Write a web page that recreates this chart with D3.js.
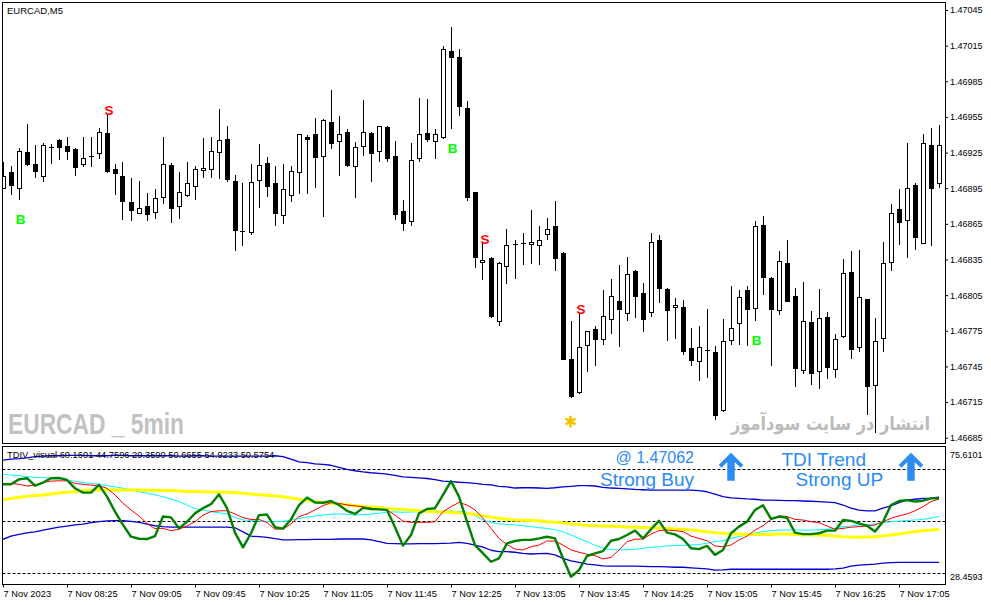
<!DOCTYPE html>
<html>
<head>
<meta charset="utf-8">
<script src="https://cdn.jsdelivr.net/npm/d3@7"></script>
<style>
  body { margin: 0; background: #fff; }
  svg { display: block; }
  .axis text { font-family: "Liberation Sans", Arial, sans-serif; font-size: 9.3px; fill: #000; }
  .axis line { stroke: #000; }
  .axis path { display: none; }
</style>
</head>
<body>
<div id="chart"></div>
<script>
// EURCAD M5 candles, 7 Nov 2023 07:45 .. 17:30
var opens = [1.46895,1.46908,1.46895,1.46925,1.46915,1.46905,1.46930,1.46935,1.46930,1.46928,
  1.46915,1.46922,1.46924,1.46941,1.46911,1.46905,1.46883,1.46874,1.46880,1.46874,
  1.46887,1.46914,1.46879,1.46889,1.46897,1.46910,1.46911,1.46925,1.46936,1.46901,
  1.46859,1.46858,1.46901,1.46916,1.46899,1.46872,1.46889,1.46908,1.46938,1.46940,
  1.46922,1.46950,1.46934,1.46942,1.46913,1.46930,1.46941,1.46926,1.46946,1.46922,
  1.46875,1.46867,1.46920,1.46941,1.46934,1.46938,1.47010,1.47005,1.46962,1.46891,
  1.46832,1.46836,1.46783,1.46829,1.46848,1.46849,1.46847,1.46847,1.46856,1.46863,
  1.46840,1.46751,1.46723,1.46762,1.46776,1.46768,1.46785,1.46800,1.46789,1.46825,
  1.46806,1.46790,1.46851,1.46810,1.46794,1.46795,1.46760,1.46749,1.46759,1.46757,
  1.46708,1.46767,1.46781,1.46809,1.46794,1.46864,1.46819,1.46792,1.46832,1.46804,
  1.46742,1.46782,1.46740,1.46786,1.46743,1.46770,1.46824,1.46761,1.46801,1.46729,
  1.46769,1.46833,1.46877,1.46868,1.46897,1.46849,1.46931,1.46899];
var highs = [1.46917,1.46914,1.46929,1.46949,1.46931,1.46933,1.46932,1.46936,1.46938,1.46929,
  1.46938,1.46938,1.46946,1.46957,1.46915,1.46917,1.46904,1.46901,1.46891,1.46894,
  1.46938,1.46916,1.46909,1.46917,1.46914,1.46937,1.46938,1.46962,1.46947,1.46906,
  1.46899,1.46915,1.46932,1.46921,1.46914,1.46915,1.46914,1.46941,1.46940,1.46954,
  1.46953,1.46978,1.46956,1.46945,1.46934,1.46969,1.46942,1.46947,1.46947,1.46935,
  1.46885,1.46933,1.46971,1.46970,1.46945,1.47015,1.47031,1.47012,1.46968,1.46892,
  1.46849,1.46837,1.46833,1.46861,1.46851,1.46857,1.46877,1.46863,1.46870,1.46884,
  1.46841,1.46783,1.46790,1.46774,1.46779,1.46809,1.46819,1.46830,1.46837,1.46826,
  1.46815,1.46857,1.46856,1.46811,1.46803,1.46801,1.46777,1.46779,1.46793,1.46762,
  1.46785,1.46813,1.46809,1.46813,1.46867,1.46872,1.46820,1.46842,1.46851,1.46811,
  1.46816,1.46792,1.46810,1.46791,1.46772,1.46835,1.46842,1.46843,1.46802,1.46786,
  1.46850,1.46882,1.46894,1.46933,1.46899,1.46941,1.46946,1.46948];
var lows = [1.46894,1.46889,1.46885,1.46914,1.46904,1.46900,1.46915,1.46919,1.46919,1.46905,
  1.46913,1.46913,1.46920,1.46908,1.46889,1.46868,1.46867,1.46873,1.46867,1.46869,
  1.46882,1.46866,1.46869,1.46888,1.46885,1.46904,1.46904,1.46903,1.46900,1.46842,
  1.46846,1.46856,1.46878,1.46888,1.46863,1.46865,1.46883,1.46890,1.46890,1.46895,
  1.46871,1.46928,1.46905,1.46913,1.46887,1.46922,1.46900,1.46917,1.46917,1.46868,
  1.46859,1.46863,1.46917,1.46934,1.46920,1.46936,1.46945,1.46956,1.46884,1.46828,
  1.46818,1.46786,1.46779,1.46814,1.46819,1.46830,1.46831,1.46830,1.46851,1.46825,
  1.46750,1.46718,1.46722,1.46740,1.46745,1.46763,1.46772,1.46761,1.46783,1.46786,
  1.46774,1.46787,1.46798,1.46766,1.46768,1.46755,1.46745,1.46733,1.46735,1.46700,
  1.46707,1.46763,1.46763,1.46762,1.46783,1.46805,1.46745,1.46788,1.46799,1.46728,
  1.46739,1.46729,1.46726,1.46734,1.46735,1.46769,1.46751,1.46757,1.46704,1.46689,
  1.46757,1.46825,1.46847,1.46836,1.46843,1.46848,1.46846,1.46895];
var closes = [1.46905,1.46897,1.46926,1.46915,1.46909,1.46931,1.46929,1.46929,1.46926,1.46913,
  1.46920,1.46921,1.46942,1.46909,1.46908,1.46884,1.46876,1.46878,1.46873,1.46886,
  1.46915,1.46878,1.46891,1.46899,1.46911,1.46912,1.46926,1.46935,1.46902,1.46860,
  1.46858,1.46900,1.46914,1.46897,1.46874,1.46894,1.46909,1.46940,1.46936,1.46921,
  1.46952,1.46932,1.46940,1.46914,1.46929,1.46942,1.46924,1.46947,1.46920,1.46873,
  1.46865,1.46918,1.46940,1.46936,1.46940,1.47012,1.47005,1.46964,1.46887,1.46836,
  1.46834,1.46787,1.46832,1.46847,1.46847,1.46848,1.46849,1.46851,1.46860,1.46836,
  1.46751,1.46720,1.46761,1.46774,1.46768,1.46787,1.46804,1.46793,1.46822,1.46804,
  1.46784,1.46849,1.46811,1.46792,1.46796,1.46758,1.46750,1.46761,1.46758,1.46704,
  1.46766,1.46777,1.46803,1.46793,1.46863,1.46820,1.46793,1.46833,1.46800,1.46743,
  1.46783,1.46739,1.46785,1.46744,1.46768,1.46823,1.46759,1.46803,1.46728,1.46766,
  1.46832,1.46874,1.46866,1.46895,1.46853,1.46933,1.46895,1.46931];

// signal markers (bar indices)
var buyBars = [2, 56, 94];
var sellBars = [13, 60, 72];
var starBars = [71];

// TDI lines
var rsiLine = [62.8,62.8,64.5,64.9,62.3,63.4,64.9,65.0,64.3,61.4,59.9,59.9,62.6,58.5,53.3,48.7,44.6,43.9,43.8,44.8,
  51.6,51.3,47.5,49.8,52.7,54.5,55.9,59.3,54.5,46.0,40.9,45.8,52.1,52.3,47.9,47.4,50.6,55.6,58.2,56.5,
  56.4,57.0,55.6,53.6,52.5,54.6,54.2,54.1,53.9,47.9,41.5,45.2,52.7,54.2,54.5,59.1,63.9,58.5,49.8,41.7,
  38.8,35.9,37.1,42.3,43.1,43.5,43.5,44.0,44.6,44.0,37.1,30.7,33.0,37.9,38.8,39.6,43.2,43.8,45.2,46.7,
  44.0,47.2,50.1,46.0,45.4,43.8,40.6,40.3,41.4,38.3,40.0,45.8,48.1,49.8,53.9,55.5,50.8,51.6,51.2,46.0,
  45.5,45.5,45.8,46.7,46.7,50.4,50.1,49.2,48.4,46.4,49.8,55.6,57.0,57.3,56.8,57.1,57.9,57.9];
var signalLine = [63.1,63.1,62.8,62.2,62.5,63.4,63.9,64.0,64.0,63.1,62.8,62.5,62.3,61.4,59.1,56.2,53.9,51.8,49.2,47.4,
  47.5,46.7,47.2,48.3,49.8,52.1,53.3,53.6,53.6,52.5,51.2,50.6,50.6,49.5,47.2,47.3,49.0,51.6,52.5,53.9,
  55.4,56.4,56.2,55.6,55.3,55.0,54.5,54.1,53.9,52.1,50.0,49.6,49.6,49.6,49.8,53.3,55.0,56.5,55.6,53.9,
  51.0,47.5,44.0,41.9,40.3,40.0,41.1,41.7,43.1,43.1,41.7,40.0,39.2,38.5,38.0,36.9,37.4,40.0,42.9,43.7,
  43.8,45.5,46.7,46.9,46.7,46.4,44.8,44.0,43.2,41.4,41.1,41.7,43.5,44.8,46.9,48.4,50.6,51.8,51.6,50.6,
  50.4,49.8,49.5,48.3,47.2,47.5,47.9,48.1,48.3,48.7,49.8,51.0,51.8,52.5,53.6,55.0,56.8,57.7];
var slowLine = [66.3,66.0,65.8,65.4,65.2,65.1,64.9,64.6,64.3,63.8,63.4,63.1,62.8,62.3,61.9,61.4,60.8,60.2,59.7,59.1,
  58.5,57.7,56.8,55.6,54.4,53.9,53.3,52.9,52.5,51.3,50.4,50.2,50.0,49.9,49.8,49.9,50.4,51.0,51.4,51.8,
  52.1,52.4,52.5,52.4,52.1,52.3,52.4,52.7,53.2,53.2,53.1,53.2,53.3,53.4,53.5,53.5,53.5,53.4,53.1,51.9,
  50.4,49.6,49.0,48.9,48.7,48.4,48.1,47.7,47.5,47.0,46.3,45.2,44.0,42.9,41.6,40.6,40.1,40.0,40.1,40.2,
  40.6,40.9,41.1,41.4,41.5,41.6,41.7,41.9,42.3,42.9,43.2,44.0,44.6,45.2,45.8,46.4,46.7,46.9,46.9,46.9,
  46.9,46.9,47.0,47.2,47.5,48.1,48.3,48.7,48.8,49.0,49.5,49.8,50.0,50.2,50.4,50.6,51.1,51.6];
var baseLine = [57.4,57.9,58.3,58.6,58.9,59.1,59.4,59.8,60.0,60.2,60.6,60.7,60.8,60.8,60.8,60.8,60.8,60.8,60.7,60.7,
  60.6,60.6,60.5,60.3,60.3,60.2,60.1,60.1,60.0,59.9,59.7,59.4,59.2,59.0,58.7,58.5,58.0,57.6,57.2,56.8,
  56.5,56.2,55.9,55.7,55.4,55.1,54.9,54.7,54.4,54.2,54.1,53.9,53.6,53.4,53.3,53.2,53.1,52.9,52.7,52.4,
  51.8,51.4,51.0,50.7,50.4,50.3,50.2,50.1,49.8,49.6,49.4,49.1,48.8,48.5,48.4,48.3,48.2,48.1,48.0,47.9,
  47.8,47.7,47.6,47.5,47.3,47.2,46.9,46.7,46.3,46.0,45.8,45.6,45.5,45.4,45.4,45.4,45.4,45.5,45.5,45.4,
  45.3,45.3,45.2,45.1,44.8,44.6,44.5,44.4,44.5,44.6,44.9,45.2,45.5,46.0,46.4,46.7,46.9,47.2];
var upperBand = [71.2,71.5,71.7,72.0,72.4,72.6,72.7,72.7,72.8,72.8,72.8,72.7,72.7,72.7,72.8,72.8,72.7,72.7,72.7,72.7,
  72.7,72.7,72.6,72.6,72.7,72.7,72.6,72.6,72.6,72.6,72.6,72.6,72.6,72.6,72.7,72.4,71.5,70.6,70.3,69.9,
  69.7,69.4,68.7,68.0,67.5,67.1,66.8,66.6,66.3,65.9,65.4,65.2,65.0,64.8,64.4,63.9,63.7,63.5,63.4,63.1,
  62.8,62.6,62.1,61.9,61.5,61.6,61.6,61.5,61.4,61.6,61.9,62.1,62.3,62.3,62.2,61.7,61.5,61.4,61.2,61.0,
  60.9,60.8,60.8,60.8,60.8,60.8,60.8,60.6,60.2,59.4,58.5,58.1,57.9,57.7,57.6,57.3,57.3,57.2,57.1,57.1,
  57.0,56.9,56.8,56.6,56.4,55.6,54.5,53.8,53.6,53.6,54.5,55.3,56.4,57.3,57.6,57.9,58.0,58.3];
var lowerBand = [43.7,44.8,45.4,45.9,46.3,46.9,47.4,47.9,48.3,48.7,49.0,49.5,49.8,50.1,50.2,50.2,49.9,49.6,49.0,48.4,
  48.1,47.9,47.9,47.9,47.9,47.9,47.9,47.9,47.9,47.7,46.3,44.8,44.6,44.4,43.9,43.5,43.5,43.6,43.6,43.7,
  43.7,43.7,43.8,43.8,43.8,43.8,43.5,42.9,42.3,42.2,42.1,42.1,42.2,42.2,42.2,42.3,42.4,42.6,42.3,41.7,
  41.0,39.9,39.4,39.4,39.2,38.8,38.6,38.7,38.8,38.3,37.1,36.2,35.7,35.1,34.8,34.5,34.4,34.4,34.4,34.4,
  34.3,34.2,34.2,34.1,34.0,34.0,33.8,33.6,33.4,33.0,33.1,33.3,33.3,33.3,33.3,33.3,33.3,33.3,33.3,33.3,
  33.3,33.3,33.3,33.3,33.4,33.7,34.4,34.7,34.9,35.1,35.4,35.6,35.7,35.7,35.7,35.7,35.7,35.7];
var tdiLevels = [68, 50, 32];
var tdiValues = [60.1601, 44.7596, 29.3590, 50.6655, 54.9233, 50.5754];
var tdiRange = [28.4593, 75.6101];

// axes
var priceTicks = [1.47045,1.47015,1.46985,1.46955,1.46925,1.46895,1.46865,1.46835,1.46805,1.46775,1.46745,1.46715,1.46685];
var timeTickBars = [0,8,16,24,32,40,48,56,64,72,80,88,96,104,112];
var timeLabels = ["7 Nov 2023","7 Nov 08:25","7 Nov 09:05","7 Nov 09:45","7 Nov 10:25","7 Nov 11:05","7 Nov 11:45",
  "7 Nov 12:25","7 Nov 13:05","7 Nov 13:45","7 Nov 14:25","7 Nov 15:05","7 Nov 15:45","7 Nov 16:25","7 Nov 17:05"];

var width = 991, height = 605;
var main = {left: 2.5, right: 945.5, top: 2.5, bottom: 443.5};
var sub = {left: 2.5, right: 945.5, top: 446.5, bottom: 584.5};
var labelFont = '"Liberation Sans", Arial, sans-serif';

function crisp(v) { return Math.floor(v) + 0.5; }

var x = d3.scaleLinear().domain([0, opens.length - 1]).range([3, 939]);
var yPrice = d3.scaleLinear().domain([1.46685, 1.47045]).range([437.7, 10]);
var yTdi = d3.scaleLinear().domain([32, 68]).range([573, 469.3]);

var svg = d3.select("#chart").append("svg")
  .attr("width", width)
  .attr("height", height);

svg.append("rect").attr("width", width).attr("height", height).attr("fill", "#fff");

var defs = svg.append("defs");
defs.append("clipPath").attr("id", "clipMain").append("rect")
  .attr("x", main.left + 0.5).attr("y", main.top + 0.5)
  .attr("width", main.right - main.left - 1).attr("height", main.bottom - main.top - 1);
defs.append("clipPath").attr("id", "clipSub").append("rect")
  .attr("x", sub.left + 0.5).attr("y", sub.top + 0.5)
  .attr("width", sub.right - sub.left - 1).attr("height", sub.bottom - sub.top - 1);

// watermarks behind the candles
svg.append("text")
  .attr("x", 8).attr("y", 433.5)
  .attr("textLength", 176).attr("lengthAdjust", "spacingAndGlyphs")
  .style("font-family", '"Liberation Sans Narrow", "Arial Narrow", "Liberation Sans", sans-serif')
  .style("font-weight", "bold").style("font-size", "30px")
  .attr("fill", "#c2c2c2")
  .text("EURCAD _ 5min");

svg.append("text")
  .attr("x", 930).attr("y", 429.5)
  .attr("text-anchor", "end")
  .attr("textLength", 199).attr("lengthAdjust", "spacingAndGlyphs")
  .style("font-family", '"DejaVu Sans", sans-serif')
  .style("font-weight", "bold").style("font-size", "19px")
  .attr("fill", "#bcbcbc")
  .text("انتشار در سایت سودآموز");

// candles
var candles = d3.range(opens.length).map(function(i) {
  return {i: i, o: opens[i], h: highs[i], l: lows[i], c: closes[i]};
});

var candleLayer = svg.append("g").attr("clip-path", "url(#clipMain)");

candleLayer.selectAll("line.wick")
  .data(candles)
  .enter()
  .append("line")
  .attr("class", "wick")
  .attr("x1", function(d) { return crisp(x(d.i)); })
  .attr("x2", function(d) { return crisp(x(d.i)); })
  .attr("y1", function(d) { return Math.round(yPrice(d.h)); })
  .attr("y2", function(d) { return Math.round(yPrice(d.l)); })
  .style("stroke", "#000");

candleLayer.selectAll("rect.body")
  .data(candles)
  .enter()
  .append("rect")
  .attr("class", "body")
  .each(function(d) {
    var cx = crisp(x(d.i));
    var top = yPrice(Math.max(d.o, d.c)), bot = yPrice(Math.min(d.o, d.c));
    var sel = d3.select(this);
    if (bot - top < 1.5) {
      // doji: flat dash
      sel.attr("x", cx - 2.5).attr("y", Math.round(top)).attr("width", 5).attr("height", 1)
        .style("fill", "#000");
    } else {
      sel.attr("x", cx - 2).attr("y", crisp(top)).attr("width", 4)
        .attr("height", Math.round(bot - top))
        .style("fill", d.c > d.o ? "#fff" : "#000")
        .style("stroke", "#000");
    }
  });

// signal letters
var markLayer = svg.append("g").attr("clip-path", "url(#clipMain)")
  .style("font-family", labelFont).style("font-weight", "bold").style("font-size", "13.5px")
  .attr("text-anchor", "middle");

markLayer.selectAll("text.buy")
  .data(buyBars)
  .enter()
  .append("text")
  .attr("x", function(d) { return x(d) + 1.5; })
  .attr("y", function(d) { return yPrice(lows[d]) + 19; })
  .attr("dy", "0.36em")
  .attr("fill", "#00ff00")
  .text("B");

markLayer.selectAll("text.sell")
  .data(sellBars)
  .enter()
  .append("text")
  .attr("x", function(d) { return x(d) + 2; })
  .attr("y", function(d) { return yPrice(highs[d]) - 4; })
  .attr("dy", "0.36em")
  .attr("fill", "#ff0000")
  .text("S");

markLayer.selectAll("path.star")
  .data(starBars)
  .enter()
  .append("path")
  .attr("transform", function(d) { return "translate(" + (x(d) - 0.5) + "," + (yPrice(lows[d]) + 23) + ")"; })
  .attr("d", d3.symbol(d3.symbolAsterisk, 95))
  .style("stroke", "#f5c400")
  .style("stroke-width", 2.6)
  .style("fill", "none");

// TDI lines
var tdiLayer = svg.append("g").attr("clip-path", "url(#clipSub)");

tdiLayer.selectAll("line.level")
  .data(tdiLevels)
  .enter()
  .append("line")
  .attr("x1", sub.left).attr("x2", sub.right)
  .attr("y1", function(d) { return crisp(yTdi(d)); })
  .attr("y2", function(d) { return crisp(yTdi(d)); })
  .style("stroke", "#000")
  .style("stroke-dasharray", "3,2");

var line = d3.line()
  .x(function(d, i) { return x(i); })
  .y(function(d) { return yTdi(d); });

var tdiSeries = [
  {values: upperBand, color: "#0000d0", width: 1.3},
  {values: lowerBand, color: "#0000d0", width: 1.3},
  {values: slowLine, color: "#00ffff", width: 1},
  {values: baseLine, color: "#ffff00", width: 3},
  {values: signalLine, color: "#ff0000", width: 1},
  {values: rsiLine, color: "#008000", width: 2.4}
];

tdiLayer.selectAll("path.tdi")
  .data(tdiSeries)
  .enter()
  .append("path")
  .attr("d", function(d) { return line(d.values); })
  .style("fill", "none")
  .style("stroke", function(d) { return d.color; })
  .style("stroke-width", function(d) { return d.width; })
  .style("stroke-linejoin", "round");

// panel frames
svg.append("rect")
  .attr("x", main.left).attr("y", main.top)
  .attr("width", main.right - main.left).attr("height", main.bottom - main.top)
  .style("fill", "none").style("stroke", "#000");
svg.append("rect")
  .attr("x", sub.left).attr("y", sub.top)
  .attr("width", sub.right - sub.left).attr("height", sub.bottom - sub.top)
  .style("fill", "none").style("stroke", "#000");

// price axis
var priceAxis = d3.axisRight(yPrice)
  .tickValues(priceTicks)
  .tickFormat(d3.format(".5f"))
  .tickSize(3)
  .tickPadding(2);

svg.append("g")
  .attr("class", "axis")
  .attr("transform", "translate(945,0)")
  .call(priceAxis)
  .selectAll("text").style("font-size", "9px");

// time axis
var timeAxis = d3.axisBottom(x)
  .tickValues(timeTickBars)
  .tickFormat(function(d, i) { return timeLabels[i]; })
  .tickSize(3)
  .tickPadding(3);

svg.append("g")
  .attr("class", "axis")
  .attr("transform", "translate(0," + sub.bottom + ")")
  .call(timeAxis)
  .selectAll("text")
  .attr("text-anchor", "start")
  .attr("x", 0);

// TDI scale labels
svg.selectAll("text.tdiScale")
  .data(tdiRange)
  .enter()
  .append("text")
  .attr("x", 950)
  .attr("y", function(d, i) { return i === 0 ? yTdi(d) - 6 : yTdi(d) + 7; })
  .attr("dy", "0.35em")
  .style("font-family", labelFont).style("font-size", "9px")
  .text(function(d) { return d3.format(".4f")(d); });

// titles
svg.append("text")
  .attr("x", 7).attr("y", 14)
  .style("font-family", labelFont).style("font-size", "9.5px")
  .text("EURCAD,M5");

svg.append("text")
  .attr("x", 7).attr("y", 458)
  .style("font-family", labelFont).style("font-size", "9.3px")
  .text("TDIV_visual " + tdiValues.map(d3.format(".4f")).join(" "));

// TDI status labels
var noteColor = "#2a8cf4";
var notes = [
  {text: "@ 1.47062", x: 694, y: 462.5, size: 16, anchor: "end"},
  {text: "Strong Buy", x: 694, y: 485.5, size: 19, anchor: "end"},
  {text: "TDI Trend", x: 781.5, y: 466, size: 19, anchor: "start"},
  {text: "Strong UP", x: 795.5, y: 485.5, size: 19, anchor: "start"}
];

svg.selectAll("text.note")
  .data(notes)
  .enter()
  .append("text")
  .attr("x", function(d) { return d.x; })
  .attr("y", function(d) { return d.y; })
  .attr("text-anchor", function(d) { return d.anchor; })
  .style("font-family", labelFont)
  .style("font-size", function(d) { return d.size + "px"; })
  .attr("fill", noteColor)
  .text(function(d) { return d.text; });

var arrowShape = "M0,0L12.3,12.3L9.5,15L3.7,9.2L3.7,28L-3.7,28L-3.7,9.2L-9.5,15L-12.3,12.3Z";
svg.selectAll("path.arrow")
  .data([731, 911])
  .enter()
  .append("path")
  .attr("transform", function(d) { return "translate(" + d + ",452.7)"; })
  .attr("d", arrowShape)
  .attr("fill", noteColor);
</script>
</body>
</html>
